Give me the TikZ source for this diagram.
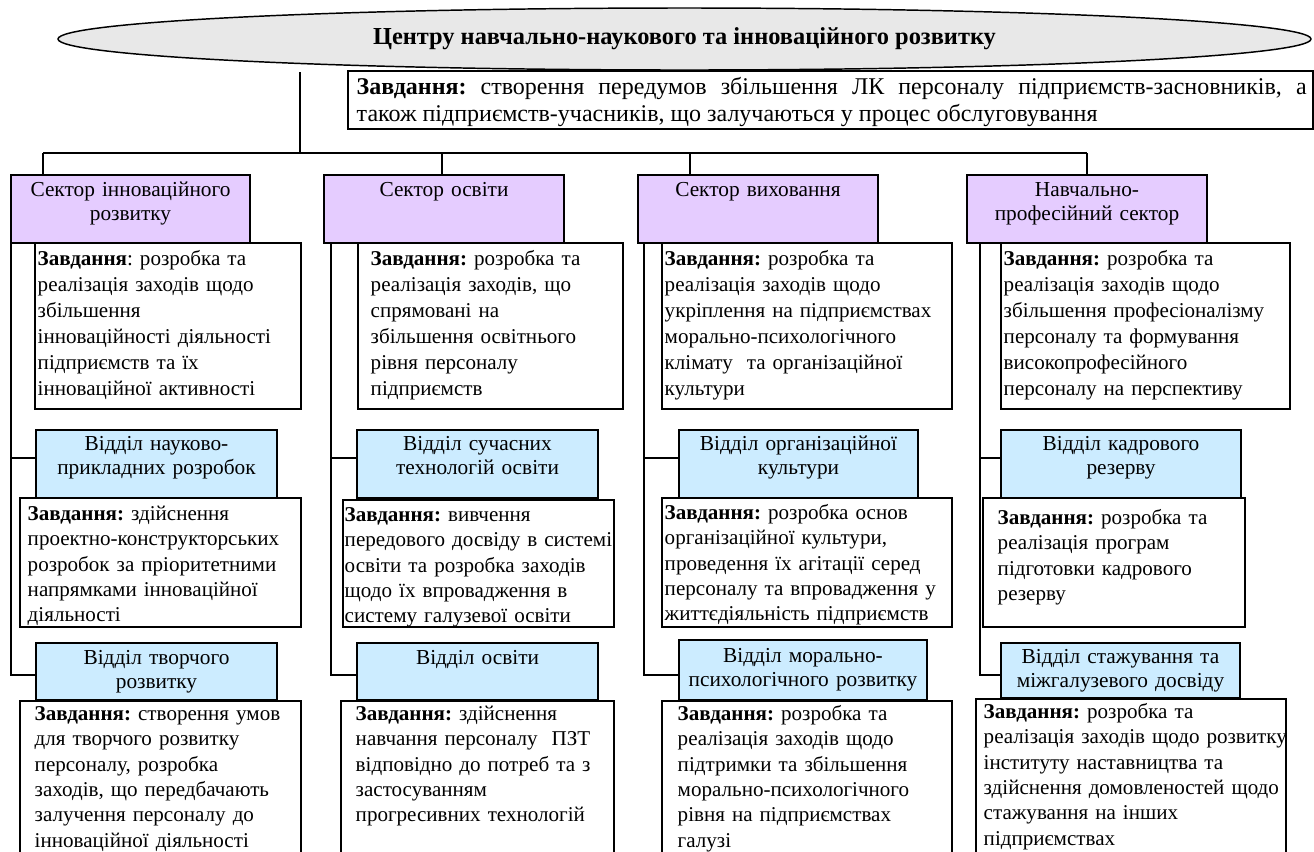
\documentclass[tikz,border=0pt]{standalone}
\usepackage{fontspec}
\setmainfont{Liberation Serif}
\usetikzlibrary{shapes.geometric,fit}
\frenchspacing

\definecolor{sektorfill}{RGB}{229,204,255}
\definecolor{viddilfill}{RGB}{204,236,255}
\definecolor{ovalfill}{RGB}{232,232,232}

\tikzset{every picture/.style={line width=1.1pt}}
\tikzset{
	ramka/.style={draw, inner sep=0pt, fill=white},
	sektor/.style={ramka, fill=sektorfill},
	viddil/.style={ramka, fill=viddilfill},
	tekst/.style={inner sep=0pt, anchor=north west, text width=300pt, align=left, font=\fontsize{15.8}{19}\selectfont, execute at begin node=\strut},
	tekstvg/.style={tekst, font=\fontsize{15.8}{19.6}\selectfont},
	nazva/.style={tekst, anchor=north, text width=200pt, align=center, font=\fontsize{16}{18.6}\selectfont},
	golovne/.style={tekst, text width=712.5pt, align=justify, font=\fontsize{18}{20.2}\selectfont, execute at begin node={\tolerance=9999\strut}},
}

\begin{document}
\begin{tikzpicture}[x=0.75pt,y=0.75pt,yscale=-1,xscale=1]
	\useasboundingbox (0,0) rectangle (1314,851);
	\clip (0,0) rectangle (1314,851);

	%Shape: Ellipse
	\node [ellipse, draw, fill=ovalfill, inner sep=0pt, minimum width=939.75pt, minimum height=46.5pt, font=\fontsize{18.3}{20}\selectfont\bfseries] (centr) at (684.5,39) {Центру навчально-наукового та інноваційного розвитку};
	%Shape: Rectangle
	\node [ramka, fit={(348,71) (1313,129)}] (zav0) {};
	% Text Node
	\node [golovne] (tzav0) at (356,74.5) {\textbf{Завдання:} створення передумов збільшення ЛК персоналу підприємств-засновників, а\break також підприємств-учасників, що залучаються у процес обслуговування};

	%Sectors
	\node [sektor, fit={(11,175) (250,243)}] (sek1) {};
	\node [sektor, fit={(324,175) (564,243)}] (sek2) {};
	\node [sektor, fit={(638,175) (878,243)}] (sek3) {};
	\node [sektor, fit={(967,175) (1207,243)}] (sek4) {};
	\node [nazva] (tsek1) at (130.5,178) {Сектор інноваційного\\розвитку};
	\node [nazva] (tsek2) at (444,178) {Сектор освіти};
	\node [nazva] (tsek3) at (758,178) {Сектор виховання};
	\node [nazva] (tsek4) at (1087,178) {Навчально-\\професійний сектор};

	%Tasks of sectors
	\node [ramka, fit={(35,243) (301,409)}] (zav11) {};
	\node [ramka, fit={(358,243) (623,409)}] (zav21) {};
	\node [ramka, fit={(662,243) (952,409)}] (zav31) {};
	\node [ramka, fit={(1001,243) (1290,409)}] (zav41) {};
	\node [tekstvg] (tzav11) at (37,246) {\textbf{Завдання}: розробка та\\реалізація заходів щодо\\збільшення\\інноваційності діяльності\\підприємств та їх\\інноваційної активності};
	\node [tekstvg] (tzav21) at (370,246) {\textbf{Завдання:} розробка та\\реалізація заходів, що\\спрямовані на\\збільшення освітнього\\рівня персоналу\\підприємств};
	\node [tekstvg] (tzav31) at (664,246) {\textbf{Завдання:} розробка та\\реалізація заходів щодо\\укріплення на підприємствах\\морально-психологічного\\клімату\ \ та організаційної\\культури};
	\node [tekstvg] (tzav41) at (1003,246) {\textbf{Завдання:} розробка та\\реалізація заходів щодо\\збільшення професіоналізму\\персоналу та формування\\високопрофесійного\\персоналу на перспективу};

	%Departments, first row
	\node [viddil, fit={(36,430) (277,498)}] (vid11) {};
	\node [viddil, fit={(357,430) (598,498)}] (vid21) {};
	\node [viddil, fit={(679,430) (918,498)}] (vid31) {};
	\node [viddil, fit={(1001,430) (1241,498)}] (vid41) {};
	\node [nazva] (tvid11) at (156.5,432) {Відділ науково-\\прикладних розробок};
	\node [nazva] (tvid21) at (477.5,432) {Відділ сучасних\\технологій освіти};
	\node [nazva] (tvid31) at (798.5,432) {Відділ організаційної\\культури};
	\node [nazva] (tvid41) at (1121,432) {Відділ кадрового\\резерву};

	\node [ramka, fit={(20,498) (301,627)}] (zav12) {};
	\node [ramka, fit={(343,500) (614,627)}] (zav22) {};
	\node [ramka, fit={(662,498) (952,627)}] (zav32) {};
	\node [ramka, fit={(983,498) (1245,627)}] (zav42) {};
	\node [tekst] (tzav12) at (27,502) {\textbf{Завдання:} здійснення\\проектно-конструкторських\\розробок за пріоритетними\\напрямками інноваційної\\діяльності};
	\node [tekst] (tzav22) at (344,503) {\textbf{Завдання:} вивчення\\передового досвіду в системі\\освіти та розробка заходів\\щодо їх впровадження в\\систему галузевої освіти};
	\node [tekst] (tzav32) at (664,501) {\textbf{Завдання:} розробка основ\\організаційної культури,\\проведення їх агітації серед\\персоналу та впровадження у\\життєдіяльність підприємств};
	\node [tekst] (tzav42) at (997,506) {\textbf{Завдання:} розробка та\\реалізація програм\\підготовки кадрового\\резерву};

	%Departments, second row
	\node [viddil, fit={(36,643) (277,700)}] (vid12) {};
	\node [viddil, fit={(357,643) (598,700)}] (vid22) {};
	\node [viddil, fit={(679,640) (927,700)}] (vid32) {};
	\node [viddil, fit={(1001,643) (1240,698)}] (vid42) {};
	\node [nazva] (tvid12) at (156.5,646) {Відділ творчого\\розвитку};
	\node [nazva] (tvid22) at (477.5,646) {Відділ освіти};
	\node [nazva] (tvid32) at (803,644) {Відділ морально-\\психологічного розвитку};
	\node [nazva] (tvid42) at (1120.5,645) {Відділ стажування та\\міжгалузевого досвіду};

	\node [ramka, fit={(20,701) (301,880)}] (zav13) {};
	\node [ramka, fit={(341,701) (614,880)}] (zav23) {};
	\node [ramka, fit={(662,701) (952,880)}] (zav33) {};
	\node [ramka, fit={(976,699) (1286,880)}] (zav43) {};
	\node [tekst] (tzav13) at (34,702) {\textbf{Завдання:} створення умов\\для творчого розвитку\\персоналу, розробка\\заходів, що передбачають\\залучення персоналу до\\інноваційної діяльності};
	\node [tekst] (tzav23) at (355,702) {\textbf{Завдання:} здійснення\\навчання персоналу\ \ ПЗТ\\відповідно до потреб та з\\застосуванням\\прогресивних технологій};
	\node [tekst] (tzav33) at (677,702) {\textbf{Завдання:} розробка та\\реалізація заходів щодо\\підтримки та збільшення\\морально-психологічного\\рівня на підприємствах\\галузі};
	\node [tekst] (tzav43) at (983,700) {\textbf{Завдання:} розробка та\\реалізація заходів щодо розвитку\\інституту наставництва та\\здійснення домовленостей щодо\\стажування на інших\\підприємствах};

	%Straight Lines
	\coordinate (stovp) at (300,72);
	\coordinate (shyna) at (300,153);
	\coordinate (d1) at (43,153);
	\coordinate (d2) at (442,153);
	\coordinate (d3) at (690,153);
	\coordinate (d4) at (1087,153);
	\draw (stovp) -- (shyna);
	\draw (d1) -- (d4);
	\foreach \i in {1,2,3,4} \draw (d\i) -- (d\i |- sek\i.north);

	\coordinate (k1) at (11,243);  \coordinate (m1) at (11,458);  \coordinate (n1) at (11,675);
	\coordinate (k2) at (331,243); \coordinate (m2) at (331,458); \coordinate (n2) at (331,675);
	\coordinate (k3) at (644,243); \coordinate (m3) at (644,458); \coordinate (n3) at (644,675);
	\coordinate (k4) at (980,243); \coordinate (m4) at (980,458); \coordinate (n4) at (980,675);
	\foreach \i in {1,2,3,4} {
		\draw (k\i) -- (n\i) -- (n\i -| vid\i2.west);
		\draw (m\i) -- (m\i -| vid\i1.west);
	}

\end{tikzpicture}
\end{document}
